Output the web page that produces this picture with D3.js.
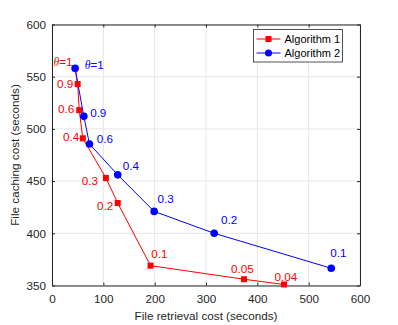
<!DOCTYPE html>
<html>
<head>
<meta charset="utf-8">
<script src="https://cdn.jsdelivr.net/npm/d3@7"></script>
<style>
  body{margin:0;background:#fff;}
  text{font-family:"Liberation Sans",Arial,Helvetica,sans-serif;}
</style>
</head>
<body>
<div id="chart"></div>
<script>
// data
var thetaLabels1 = ["θ=1","0.9","0.6","0.4","0.3","0.2","0.1","0.05","0.04"];
var retrieval1 = [45, 50, 53, 60, 105, 128, 192, 374, 452];
var caching1 = [558, 543, 518, 491, 453, 429, 369, 356, 351];

var thetaLabels2 = ["θ=1","0.9","0.6","0.4","0.3","0.2","0.1"];
var retrieval2 = [45, 62, 73, 128, 199, 316, 544];
var caching2 = [558, 512, 485.5, 456, 421, 400, 366.5];

var xTicks = [0,100,200,300,400,500,600];
var yTicks = [350,400,450,500,550,600];

// label offsets (px) [dx, dy, anchor]
var off1 = [[-2.5,-2,"end"],[-4.5,3.7,"end"],[-5,3,"end"],[-3.5,2.3,"end"],[-8,6.7,"end"],[-4.5,6.7,"end"],[0.7,-7.3,"start"],[-1.7,-6.7,"middle"],[1.8,-3.6,"middle"]];
var off2 = [[9.7,1,"start"],[6.3,1,"start"],[7.4,-1.3,"start"],[5,-5,"start"],[3.4,-8.4,"start"],[6.7,-9,"start"],[-1,-11,"start"]];

var W = 398, H = 325;
var m = {left:52, top:24.5, right:38, bottom:39.5};
var svg = d3.select("#chart").append("svg").attr("width",W).attr("height",H);

var x = d3.scaleLinear().domain([0,600]).range([m.left, W-m.right]);
var y = d3.scaleLinear().domain([350,600]).range([H-m.bottom, m.top]);

// grid
svg.append("g").selectAll("line").data(xTicks).enter().append("line")
  .attr("x1",function(d){return x(d);}).attr("x2",function(d){return x(d);})
  .attr("y1",y(350)).attr("y2",y(600))
  .attr("stroke","#e6e6e6").attr("stroke-width",1);
svg.append("g").selectAll("line").data(yTicks).enter().append("line")
  .attr("y1",function(d){return y(d);}).attr("y2",function(d){return y(d);})
  .attr("x1",x(0)).attr("x2",x(600))
  .attr("stroke","#e6e6e6").attr("stroke-width",1);

// axes
var xAxis = svg.append("g").attr("class","xAxis")
  .attr("transform","translate(0,"+y(350)+")")
  .call(d3.axisBottom(x).tickValues(xTicks).tickSizeInner(-3).tickSizeOuter(0).tickPadding(9));
var xTop = svg.append("g")
  .attr("transform","translate(0,"+y(600)+")")
  .call(d3.axisTop(x).tickValues(xTicks).tickSizeInner(-3).tickSizeOuter(0).tickFormat(""));
var yAxis = svg.append("g").attr("class","yAxis")
  .attr("transform","translate("+x(0)+",0)")
  .call(d3.axisLeft(y).tickValues(yTicks).tickSizeInner(-3).tickSizeOuter(0).tickPadding(6));
var yRight = svg.append("g")
  .attr("transform","translate("+x(600)+",0)")
  .call(d3.axisRight(y).tickValues(yTicks).tickSizeInner(-3).tickSizeOuter(0).tickFormat(""));

svg.selectAll(".domain").attr("stroke","#262626");
svg.selectAll(".tick line").attr("stroke","#262626");
svg.selectAll(".tick text").attr("fill","#262626").style("font-size","11.7px")
  .style("font-family","'Liberation Sans',Arial,sans-serif");

// axis labels
svg.append("text").attr("x",(x(0)+x(600))/2).attr("y",H-5)
  .attr("text-anchor","middle").attr("fill","#262626").style("font-size","11.7px")
  .text("File retrieval cost (seconds)");
svg.append("text").attr("transform","translate(18.5,"+((y(350)+y(600))/2)+") rotate(-90)")
  .attr("text-anchor","middle").attr("fill","#262626").style("font-size","11.7px")
  .text("File caching cost (seconds)");

function series(xs, ys, color){
  var pts = xs.map(function(d,i){return [d, ys[i]];});
  svg.append("path").datum(pts)
    .attr("fill","none").attr("stroke",color).attr("stroke-width",1)
    .attr("d", d3.line().x(function(d){return x(d[0]);}).y(function(d){return y(d[1]);}));
  return pts;
}
function labels(pts, labs, off, color){
  svg.append("g").selectAll("text").data(pts).enter().append("text")
    .attr("x",function(d,i){return x(d[0])+off[i][0];})
    .attr("y",function(d,i){return y(d[1])+off[i][1];})
    .attr("text-anchor",function(d,i){return off[i][2];})
    .attr("fill",color).style("font-size","11.7px")
    .each(function(d,i){
      var t = d3.select(this);
      if(labs[i].charAt(0)==="θ"){
        t.append("tspan").style("font-style","italic").style("font-family","'Liberation Serif',serif").text("θ");
        t.append("tspan").text(labs[i].slice(1));
      } else t.text(labs[i]);
    });
}

var p1 = series(retrieval1, caching1, "#ff0000");
var p2 = series(retrieval2, caching2, "#0000ff");

svg.append("g").selectAll("rect").data(p1).enter().append("rect")
  .attr("x",function(d){return x(d[0])-3;}).attr("y",function(d){return y(d[1])-3;})
  .attr("width",6).attr("height",6).attr("fill","#ff0000");
svg.append("g").selectAll("circle").data(p2).enter().append("circle")
  .attr("cx",function(d){return x(d[0]);}).attr("cy",function(d){return y(d[1]);})
  .attr("r",3.8).attr("fill","#0000ff");

labels(p1, thetaLabels1, off1, "#ff0000");
labels(p2, thetaLabels2, off2, "#0000ff");

// legend
var lg = svg.append("g").attr("transform","translate(253.5,29.5)");
lg.append("rect").attr("width",89).attr("height",32.5).attr("fill","#fff").attr("stroke","#262626").attr("stroke-width",0.8);
var legItems = [{name:"Algorithm 1",color:"#ff0000",shape:"square"},{name:"Algorithm 2",color:"#0000ff",shape:"circle"}];
legItems.forEach(function(d,i){
  var yy = 9.5 + i*14;
  lg.append("line").attr("x1",3).attr("x2",27).attr("y1",yy).attr("y2",yy).attr("stroke",d.color).attr("stroke-width",1);
  if(d.shape==="square") lg.append("rect").attr("x",12).attr("y",yy-3).attr("width",6).attr("height",6).attr("fill",d.color);
  else lg.append("circle").attr("cx",15).attr("cy",yy).attr("r",3.5).attr("fill",d.color);
  lg.append("text").attr("x",31).attr("y",yy+4).attr("fill","#000").style("font-size","11px").text(d.name);
});
</script>
</body>
</html>
